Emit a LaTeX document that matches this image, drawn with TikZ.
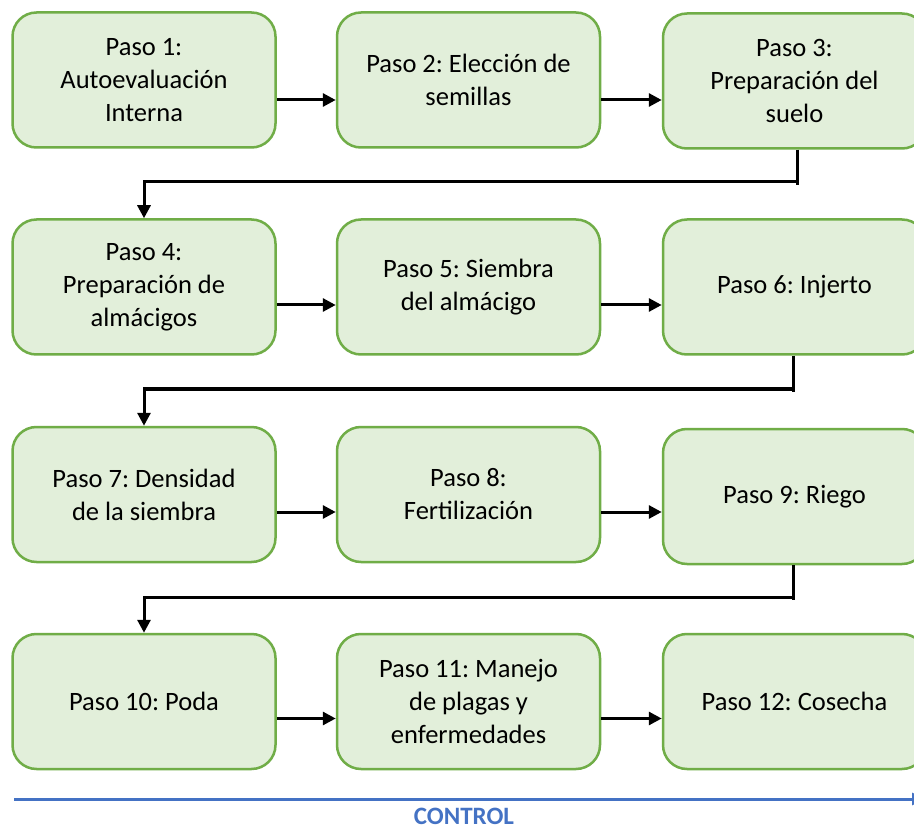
\documentclass[tikz,border=0pt]{standalone}
\usepackage{fontspec}
\setmainfont{Carlito}
\usetikzlibrary{arrows.meta}
\definecolor{boxfill}{HTML}{E2EFDA}
\definecolor{boxline}{HTML}{70AD47}
\definecolor{ctrlblue}{HTML}{4472C4}
\frenchspacing
\begin{document}
\begin{tikzpicture}[x=1pt,y=-1pt,
  stepbox/.style={draw=boxline, fill=boxfill, line width=2.5pt, rounded corners=24pt,
    minimum width=263pt, minimum height=135pt, inner sep=0pt, align=center,
    font=\fontsize{26.5}{33}\selectfont, text=black},
  conn/.style={line width=3pt, -{Triangle[length=13pt,width=13pt]}},
  plain/.style={line width=3pt},
  ctrl/.style={draw=ctrlblue, line width=3pt, -{Triangle[length=12pt,width=12pt]}}]
\clip (0,0) rectangle (914,829);
\fill[white] (0,0) rectangle (914,829);
% row 1
\node[stepbox] (b1) at (144,80) {Paso 1:\\Autoevaluación\\Interna};
\node[stepbox] (b2) at (468.5,80) {Paso 2: Elección de\\semillas};
\node[stepbox] (b3) at (794.5,81) {Paso 3:\\Preparación del\\suelo};
% row 2
\node[stepbox] (b4) at (144,287) {Paso 4:\\Preparación de\\almácigos};
\node[stepbox] (b5) at (468.5,287) {Paso 5: Siembra\\del almácigo};
\node[stepbox] (b6) at (794.5,287) {Paso 6: Injerto};
% row 3
\node[stepbox] (b7) at (144,494.5) {Paso 7: Densidad\\de la siembra};
\node[stepbox] (b8) at (468.5,494.5) {Paso 8:\\Fertilización};
\node[stepbox] (b9) at (794.5,496.5) {Paso 9: Riego};
% row 4
\node[stepbox] (b10) at (144,701.5) {Paso 10: Poda};
\node[stepbox] (b11) at (468.5,701.5) {Paso 11: Manejo\\de plagas y\\enfermedades};
\node[stepbox] (b12) at (794.5,701.5) {Paso 12: Cosecha};
% horizontal arrows
\draw[conn] ([yshift=-20pt]b1.east) -- ([yshift=-20pt]b2.west);
\draw[conn] ([yshift=-20pt]b2.east) -- ([yshift=-20pt]b2.east -| b3.west);
\draw[conn] ([yshift=-18pt]b4.east) -- ([yshift=-18pt]b5.west);
\draw[conn] ([yshift=-18pt]b5.east) -- ([yshift=-18pt]b5.east -| b6.west);
\draw[conn] ([yshift=-17.5pt]b7.east) -- ([yshift=-17.5pt]b8.west);
\draw[conn] ([yshift=-17.5pt]b8.east) -- ([yshift=-17.5pt]b8.east -| b9.west);
\draw[conn] ([yshift=-17pt]b10.east) -- ([yshift=-17pt]b11.west);
\draw[conn] ([yshift=-17pt]b11.east) -- ([yshift=-17pt]b11.east -| b12.west);
% elbow connectors
\coordinate (e1) at (797,182);
\coordinate (e2) at (793,389);
\coordinate (e3) at (793,597);
\draw[plain] (b3.south -| e1) -- ([yshift=-3pt]e1);
\draw[conn] (e1) -- (e1 -| b4.north) -- (b4.north);
\draw[plain] (b6.south -| e2) -- ([yshift=-3pt]e2);
\draw[conn] (e2) -- (e2 -| b7.north) -- (b7.north);
\draw[plain] (b9.south -| e3) -- ([yshift=-3pt]e3);
\draw[conn] (e3) -- (e3 -| b10.north) -- (b10.north);
% control
\coordinate (cs) at (14,799);
\coordinate (ce) at (924,799);
\draw[ctrl] (cs) -- (ce);
\node[text=ctrlblue, font=\bfseries\fontsize{25}{29}\selectfont, inner sep=1pt] (ctl) at (464,816) {CONTROL};
\end{tikzpicture}
\end{document}
